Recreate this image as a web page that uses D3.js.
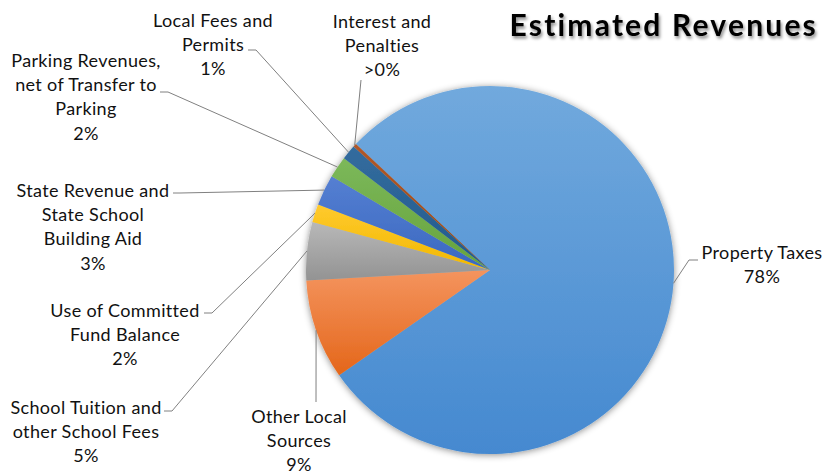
<!DOCTYPE html>
<html>
<head>
<meta charset="utf-8">
<script src="https://cdn.jsdelivr.net/npm/d3@7"></script>
<style>
  html, body { margin: 0; padding: 0; background: #fff; }
  svg { display: block; }
</style>
</head>
<body>
<script>
// Revenue sources and their share of the estimated total (percent)
const categories = [
  "Property Taxes",
  "Other Local Sources",
  "School Tuition and other School Fees",
  "Use of Committed Fund Balance",
  "State Revenue and State School Building Aid",
  "Parking Revenues, net of Transfer to Parking",
  "Local Fees and Permits",
  "Interest and Penalties"
];
const values = [78.3, 8.8, 5.1, 1.6, 2.7, 1.9, 1.3, 0.3];

// Slice colours: [top of gradient, bottom of gradient]
const colors = [
  ["#71a9dd", "#4589d0"],
  ["#f4945e", "#e4661a"],
  ["#b8b8b8", "#939393"],
  ["#ffca2e", "#f2b800"],
  ["#557fd2", "#3a68c0"],
  ["#7cb85a", "#66a33c"],
  ["#336c9e", "#225a8c"],
  ["#b0582a", "#9a4610"]
];

// Label text broken into lines, with placement of the block and its leader elbow
const labelLayout = [
  { lines: ["Property Taxes"], x: 762, y: 259, elbow: [[689, 260], [698, 260]] },
  { lines: ["Other Local", "Sources"], x: 299, y: 423, elbow: [[316, 402]] },
  { lines: ["School Tuition and", "other School Fees"], x: 86, y: 414, elbow: [[172, 411], [164, 411]] },
  { lines: ["Use of Committed", "Fund Balance"], x: 125, y: 317, elbow: [[212, 313], [204, 313]] },
  { lines: ["State Revenue and", "State School", "Building Aid"], x: 93, y: 197, elbow: [[180, 193], [173, 193]] },
  { lines: ["Parking Revenues,", "net of Transfer to", "Parking"], x: 86, y: 67, elbow: [[168, 92], [160, 92]] },
  { lines: ["Local Fees and", "Permits"], x: 213, y: 27, elbow: [[256, 50], [248, 50]] },
  { lines: ["Interest and", "Penalties"], x: 382, y: 28, elbow: [[361, 80]] }
];

const W = 823, H = 471;
const cx = 490, cy = 270, R = 184;
const lineH = 24.2;
const font = "Lato, 'Open Sans', sans-serif";

const svg = d3.select("body").append("svg").attr("width", W).attr("height", H);
const defs = svg.append("defs");

// soft shadow round the pie
const sh = defs.append("filter").attr("id", "pieShadow")
  .attr("x", "-20%").attr("y", "-20%").attr("width", "140%").attr("height", "140%");
sh.append("feDropShadow").attr("dx", 0).attr("dy", 1).attr("stdDeviation", 3.5)
  .attr("flood-color", "#000").attr("flood-opacity", 0.45);

// shadow under the title
const ts = defs.append("filter").attr("id", "titleShadow")
  .attr("x", "-10%").attr("y", "-30%").attr("width", "120%").attr("height", "160%");
ts.append("feDropShadow").attr("dx", 1.5).attr("dy", 2.5).attr("stdDeviation", 1.6)
  .attr("flood-color", "#000").attr("flood-opacity", 0.45);

colors.forEach((c, i) => {
  const g = defs.append("linearGradient").attr("id", "grad" + i)
    .attr("x1", 0).attr("y1", 0).attr("x2", 0).attr("y2", 1);
  g.append("stop").attr("offset", "0%").attr("stop-color", c[0]);
  g.append("stop").attr("offset", "100%").attr("stop-color", c[1]);
});

const data = categories.map((name, i) => ({ name, value: values[i], i }));
const start = -46.8 * Math.PI / 180;
const pie = d3.pie().sort(null).value(d => d.value)
  .startAngle(start).endAngle(start + 2 * Math.PI);
const arcs = pie(data);
const arc = d3.arc().innerRadius(0).outerRadius(R);

const total = d3.sum(values);
const pctText = v => {
  const p = v / total * 100;
  return p < 0.5 ? ">0%" : Math.round(p) + "%";
};

// slices
const g = svg.append("g").attr("transform", `translate(${cx},${cy})`);
g.append("g").attr("filter", "url(#pieShadow)")
  .selectAll("path").data(arcs).join("path")
  .attr("d", arc)
  .attr("fill", d => `url(#grad${d.data.i})`);

// leader lines from the middle of each slice's rim to its label
const edge = d => {
  const a = (d.startAngle + d.endAngle) / 2;
  return [cx + R * Math.sin(a), cy - R * Math.cos(a)];
};
svg.append("g").selectAll("path").data(arcs).join("path")
  .attr("d", d => d3.line()([edge(d), ...labelLayout[d.data.i].elbow]))
  .attr("fill", "none").attr("stroke", "#808080").attr("stroke-width", 1);

// labels
const lg = svg.append("g").attr("font-family", font).attr("font-size", 18)
  .attr("letter-spacing", 0.35)
  .attr("fill", "#111").attr("text-anchor", "middle");
arcs.forEach(d => {
  const L = labelLayout[d.data.i];
  const t = lg.append("text").attr("x", L.x).attr("y", L.y);
  [...L.lines, pctText(d.data.value)].forEach((s, k) => {
    t.append("tspan").attr("x", L.x).attr("dy", k === 0 ? 0 : lineH).text(s);
  });
});

// title
svg.append("text")
  .attr("x", 818).attr("y", 36)
  .attr("text-anchor", "end")
  .attr("font-family", font).attr("font-weight", "bold").attr("font-size", 30)
  .attr("letter-spacing", 2.2)
  .attr("fill", "#000")
  .attr("filter", "url(#titleShadow)")
  .text("Estimated Revenues");
</script>
</body>
</html>
